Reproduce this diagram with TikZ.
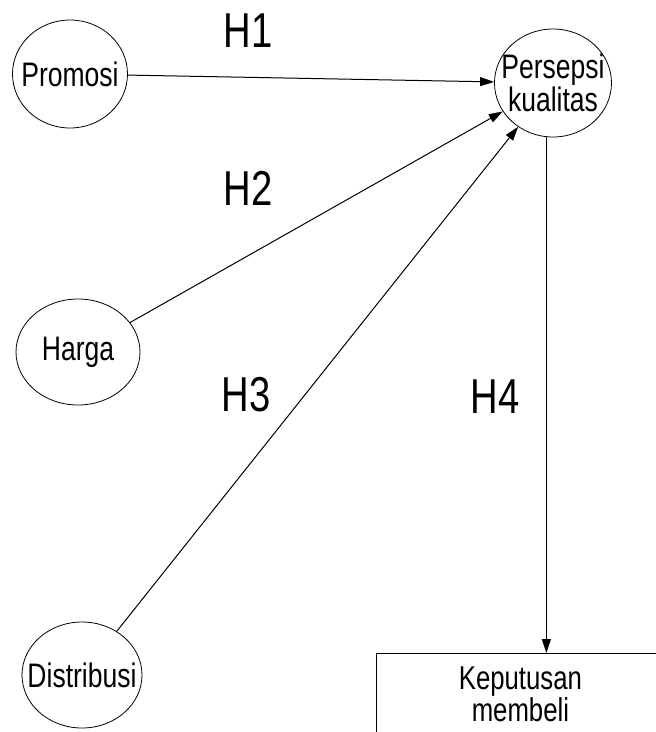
\documentclass[tikz,border=0pt]{standalone}
\usepackage{graphicx}
\usepackage{fontspec}
\setmainfont{Liberation Sans}
\usetikzlibrary{shapes.geometric,arrows.meta}

\newcommand{\narrowtxt}[1]{\makebox[0pt]{\scalebox{0.78}[1]{#1}}}

\begin{document}
\begin{tikzpicture}[x=1pt, y=-1pt,
    latent/.style={draw, ellipse, line width=0.8pt, inner sep=0pt, align=center,
        font=\fontsize{34}{29}\selectfont},
    path/.style={line width=1pt, -{Triangle[length=14pt, width=9pt]}},
    hyp/.style={inner sep=0pt, text height=35pt, text depth=0pt,
        font=\fontsize{49}{49}\selectfont}]
    \useasboundingbox (0,0) rectangle (656,732);
    \clip (0,0) rectangle (656,732);

    \node[latent, minimum width=115, minimum height=108] (promosi) at (70,74) {\narrowtxt{Promosi}};
    \node[latent, minimum width=124, minimum height=106] (harga) at (78,352) {\narrowtxt{Harga}};
    \node[latent, minimum width=120, minimum height=106] (distribusi) at (82,675) {\narrowtxt{Distribusi}};
    \node[latent, minimum width=117, minimum height=108] (persepsi) at (553,83)
        {\narrowtxt{Persepsi}\\\narrowtxt{kualitas}};
    \node[draw, line width=0.8pt, anchor=north west, minimum width=288, minimum height=82,
        align=center, font=\fontsize{33}{25}\selectfont] (keputusan) at (376,653)
        {\narrowtxt{Keputusan}\\\narrowtxt{membeli}};

    \node[hyp] (h1) at (248,30) {\narrowtxt{H1}};
    \node[hyp] (h2) at (248,188) {\narrowtxt{H2}};
    \node[hyp] (h3) at (246,394) {\narrowtxt{H3}};
    \node[hyp] (h4) at (495,396) {\narrowtxt{H4}};

    \draw[path] (promosi) -- (persepsi);
    \draw[path] (harga) -- (persepsi);
    \draw[path] (distribusi) -- (persepsi);
    \draw[path] (persepsi.-97) -- (persepsi.-97 |- keputusan.north);
\end{tikzpicture}
\end{document}
